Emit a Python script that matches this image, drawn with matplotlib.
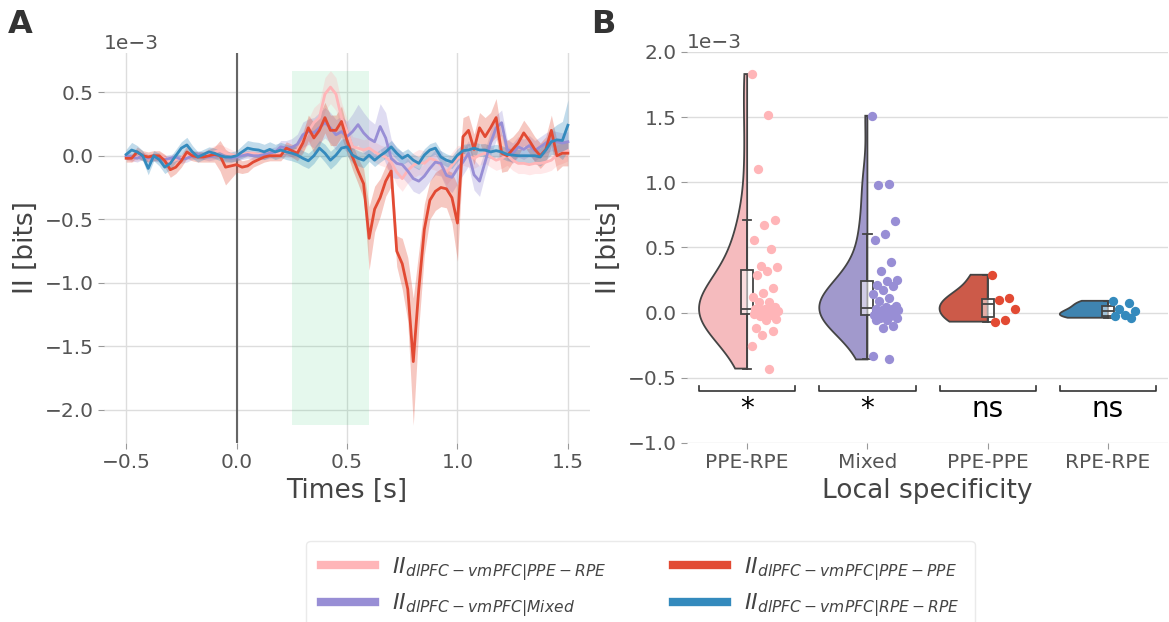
import numpy as np
import matplotlib.pyplot as plt
from matplotlib.lines import Line2D

# ---- Panel A : time courses (values in 1e-3 bits) ----
times = np.round(np.arange(-0.5, 1.5001, 0.025), 3)

ii_ppe_rpe = [0.0, -0.02, -0.01, 0.0, -0.02, -0.01, 0.0, -0.02, -0.05, -0.03,
              -0.02, 0.0, 0.01, 0.0, 0.0, 0.02, 0.03, 0.04, 0.02, 0.01,
              0.0, 0.01, 0.02, 0.02, 0.01, 0.02, 0.02, 0.01, 0.02, 0.03,
              0.03, 0.045, 0.11, 0.19, 0.26, 0.30, 0.485, 0.54, 0.485, 0.30,
              0.19, 0.07, 0.06, 0.045, 0.06, 0.03, 0.005, -0.01, -0.05, -0.13,
              -0.18, -0.115, -0.075, -0.05, -0.06, -0.02, -0.035, -0.075, -0.13, -0.075,
              -0.02, 0.005, -0.01, -0.02, 0.005, 0.02, -0.01, -0.035, -0.02, 0.005,
              -0.035, -0.06, -0.06, -0.07, -0.06, -0.06, -0.05, -0.035, 0.005, 0.02,
              0.04]
ii_mixed = [0.0, -0.01, -0.02, 0.0, -0.02, -0.01, -0.02, -0.03, -0.02, -0.01,
            -0.03, -0.02, 0.0, 0.01, 0.0, -0.01, 0.0, 0.01, -0.01, -0.02,
            -0.01, 0.0, 0.01, 0.0, 0.0, 0.01, 0.02, 0.03, 0.07, 0.06,
            0.065, 0.09, 0.165, 0.19, 0.18, 0.22, 0.26, 0.22, 0.165, 0.19,
            0.15, 0.19, 0.245, 0.18, 0.135, 0.11, 0.23, 0.14, -0.02, -0.06,
            -0.07, -0.12, -0.18, -0.2, -0.16, -0.1, -0.05, -0.06, -0.155, -0.17,
            -0.1, -0.05, 0.02, -0.15, -0.2, -0.05, 0.1, 0.22, 0.26, 0.05,
            0.02, 0.07, 0.05, 0.08, 0.04, 0.07, 0.1, 0.12, 0.11, 0.1,
            0.11]
ii_ppe_ppe = [-0.02, -0.02, 0.03, 0.0, -0.01, 0.0, 0.0, -0.04, -0.11, -0.09,
              -0.04, 0.03, 0.0, -0.01, -0.01, 0.0, 0.01, 0.0, -0.09, -0.08,
              -0.07, -0.09, -0.08, -0.05, -0.03, -0.01, 0.0, 0.0, 0.0, 0.06,
              0.04, 0.02, 0.1, 0.22, 0.14, 0.2, 0.3, 0.2, 0.2, 0.27,
              0.12, -0.01, -0.12, -0.22, -0.65, -0.42, -0.33, -0.2, -0.12, -0.75,
              -0.85, -1.05, -1.62, -1.05, -0.58, -0.35, -0.28, -0.25, -0.26, -0.33,
              -0.53, 0.15, 0.2, 0.05, 0.22, 0.15, 0.22, 0.3, 0.02, 0.0,
              0.05, 0.1, 0.18, 0.12, 0.05, 0.0, 0.05, 0.2, 0.0, 0.02,
              0.02]
ii_rpe_rpe = [0.01, 0.045, 0.03, 0.0, -0.1, 0.0, -0.03, -0.09, -0.06, 0.0,
              0.06, 0.085, 0.03, -0.01, 0.01, 0.03, 0.02, 0.0, -0.01, -0.01,
              0.0, 0.03, 0.06, 0.05, 0.045, 0.03, 0.05, 0.03, 0.045, 0.03,
              0.02, 0.005, -0.02, -0.04, 0.0, 0.06, 0.02, -0.035, 0.005, 0.06,
              0.07, 0.005, -0.02, -0.035, 0.005, -0.035, 0.0, 0.03, 0.07, 0.02,
              -0.02, 0.005, -0.035, -0.06, 0.005, 0.045, 0.06, -0.01, -0.035, -0.05,
              0.005, 0.04, 0.045, 0.06, 0.045, 0.045, 0.03, 0.04, 0.03, 0.01,
              0.005, 0.0, 0.0, 0.0, 0.0, -0.01, 0.045, 0.11, 0.125, 0.12,
              0.24]

err_ppe_rpe = [0.03, 0.03, 0.03, 0.03, 0.03, 0.03, 0.03, 0.03, 0.04, 0.04,
               0.03, 0.03, 0.03, 0.03, 0.03, 0.04, 0.05, 0.05, 0.05, 0.04,
               0.03, 0.03, 0.03, 0.03, 0.03, 0.03, 0.03, 0.03, 0.03, 0.04,
               0.05, 0.06, 0.08, 0.1, 0.12, 0.12, 0.13, 0.13, 0.13, 0.12,
               0.1, 0.08, 0.08, 0.08, 0.08, 0.08, 0.08, 0.08, 0.08, 0.1,
               0.1, 0.1, 0.1, 0.1, 0.1, 0.08, 0.08, 0.08, 0.1, 0.1,
               0.1, 0.08, 0.08, 0.08, 0.08, 0.08, 0.08, 0.08, 0.08, 0.08,
               0.08, 0.08, 0.08, 0.08, 0.08, 0.08, 0.08, 0.08, 0.08, 0.08,
               0.08]
err_mixed = [0.03, 0.03, 0.03, 0.03, 0.03, 0.03, 0.03, 0.03, 0.03, 0.03,
             0.03, 0.03, 0.03, 0.03, 0.03, 0.03, 0.03, 0.03, 0.03, 0.03,
             0.03, 0.03, 0.03, 0.03, 0.03, 0.04, 0.04, 0.04, 0.05, 0.06,
             0.07, 0.08, 0.1, 0.1, 0.12, 0.12, 0.12, 0.12, 0.12, 0.12,
             0.12, 0.14, 0.16, 0.16, 0.15, 0.14, 0.18, 0.2, 0.15, 0.12,
             0.1, 0.1, 0.1, 0.1, 0.1, 0.1, 0.1, 0.1, 0.1, 0.12,
             0.12, 0.1, 0.1, 0.12, 0.12, 0.1, 0.1, 0.1, 0.1, 0.08,
             0.08, 0.08, 0.08, 0.08, 0.08, 0.08, 0.08, 0.08, 0.08, 0.08,
             0.08]
err_ppe_ppe = [0.03, 0.03, 0.04, 0.04, 0.04, 0.04, 0.04, 0.05, 0.06, 0.05,
               0.05, 0.05, 0.04, 0.04, 0.04, 0.05, 0.06, 0.12, 0.14, 0.1,
               0.06, 0.05, 0.05, 0.04, 0.04, 0.04, 0.04, 0.04, 0.04, 0.05,
               0.05, 0.06, 0.08, 0.1, 0.12, 0.12, 0.12, 0.12, 0.12, 0.12,
               0.1, 0.1, 0.1, 0.12, 0.25, 0.18, 0.15, 0.12, 0.12, 0.12,
               0.2, 0.25, 0.5, 0.3, 0.2, 0.15, 0.15, 0.15, 0.15, 0.2,
               0.3, 0.15, 0.12, 0.12, 0.12, 0.15, 0.12, 0.15, 0.15, 0.12,
               0.1, 0.1, 0.1, 0.1, 0.1, 0.1, 0.1, 0.12, 0.12, 0.1,
               0.1]
err_rpe_rpe = [0.04, 0.06, 0.05, 0.04, 0.05, 0.04, 0.05, 0.05, 0.05, 0.05,
               0.05, 0.06, 0.05, 0.04, 0.04, 0.04, 0.04, 0.04, 0.04, 0.04,
               0.04, 0.05, 0.06, 0.06, 0.06, 0.06, 0.06, 0.06, 0.06, 0.06,
               0.06, 0.06, 0.06, 0.06, 0.06, 0.06, 0.07, 0.07, 0.07, 0.07,
               0.07, 0.06, 0.06, 0.06, 0.05, 0.05, 0.05, 0.05, 0.05, 0.05,
               0.05, 0.05, 0.05, 0.05, 0.05, 0.05, 0.05, 0.05, 0.05, 0.05,
               0.05, 0.05, 0.05, 0.05, 0.05, 0.05, 0.05, 0.05, 0.05, 0.05,
               0.05, 0.05, 0.05, 0.06, 0.06, 0.07, 0.08, 0.1, 0.12, 0.15,
               0.2]

# ---- Panel B : per-pair values (1e-3 bits) ----
categories = ["PPE-RPE", "Mixed", "PPE-PPE", "RPE-RPE"]
pts_ppe_rpe = [1.83, 1.515, 1.10, 0.71, 0.67, 0.56, 0.49, 0.36, 0.35, 0.32,
               0.29, 0.19, 0.15, 0.12, 0.08, 0.08, 0.04, 0.03, 0.03, 0.02,
               0.02, 0.01, 0.01, 0.0, 0.0, -0.01, -0.01, -0.02, -0.03, -0.05,
               -0.06, -0.12, -0.14, -0.17, -0.26, -0.43]
pts_mixed = [1.51, 0.99, 0.98, 0.70, 0.60, 0.56, 0.39, 0.32, 0.25, 0.24,
             0.21, 0.20, 0.17, 0.14, 0.11, 0.09, 0.05, 0.04, 0.03, 0.03,
             0.02, 0.02, 0.01, 0.0, 0.0, -0.01, -0.02, -0.03, -0.04, -0.04,
             -0.06, -0.06, -0.10, -0.12, -0.33, -0.36]
pts_ppe_ppe = [0.29, 0.11, 0.10, 0.03, -0.06, -0.07]
pts_rpe_rpe = [0.09, 0.07, 0.03, 0.01, -0.02, -0.03, -0.04]
significance = ["*", "*", "ns", "ns"]

colors = ["#FFB5B8", "#988ED5", "#E24A33", "#348ABD"]
violin_colors = ["#F5BBBE", "#A199CC", "#CC5A49", "#3F84B0"]
labels = [r"$II_{dlPFC-vmPFC|PPE-RPE}$", r"$II_{dlPFC-vmPFC|Mixed}$",
          r"$II_{dlPFC-vmPFC|PPE-PPE}$", r"$II_{dlPFC-vmPFC|RPE-RPE}$"]

plt.rcParams.update({"font.family": "DejaVu Sans", "axes.edgecolor": "white",
                     "text.color": "#444444", "axes.labelcolor": "#444444"})

fig = plt.figure(figsize=(11.69, 6.22), dpi=100)
axA = fig.add_axes([0.089, 0.288, 0.4157, 0.627])
axB = fig.add_axes([0.5877, 0.288, 0.4115, 0.6286])

scale = 1e-3
series = [ii_ppe_rpe, ii_mixed, ii_ppe_ppe, ii_rpe_rpe]
errors = [err_ppe_rpe, err_mixed, err_ppe_ppe, err_rpe_rpe]
lows, highs = [], []
for vals, err, c in zip(series, errors, colors):
    m = np.array(vals) * scale
    e = np.array(err) * scale
    lows.append((m - e).min())
    highs.append((m + e).max())
    axA.fill_between(times, m - e, m + e, color=c, alpha=0.3, lw=0, zorder=2)
for vals, c in zip(series, colors):
    axA.plot(times, np.array(vals) * scale, color=c, lw=2, zorder=3)

axA.fill_between([0.25, 0.6], min(lows), max(highs), color="#2ecc71", alpha=0.12, lw=0, zorder=1)
axA.axvline(0, color="#666666", lw=1.5, zorder=1.5)
axA.grid(True, color="#dddddd", lw=1)
axA.set_axisbelow(True)
axA.set_xlabel("Times [s]", fontsize=19)
axA.set_ylabel("II [bits]", fontsize=19)
axA.set_xticks([-0.5, 0.0, 0.5, 1.0, 1.5])

# raincloud panel
groups = [pts_ppe_rpe, pts_mixed, pts_ppe_ppe, pts_rpe_rpe]
for i, (g, c, vc) in enumerate(zip(groups, colors, violin_colors)):
    d = np.array(g) * scale
    bw = d.std(ddof=1) * len(d) ** (-1 / 5)
    yy = np.linspace(d.min(), d.max(), 200)
    dens = np.exp(-0.5 * ((yy[:, None] - d[None, :]) / bw) ** 2).sum(axis=1)
    dens = dens / dens.max() * 0.4
    xs = np.concatenate([[i], i - dens, [i]])
    ys = np.concatenate([[yy[0]], yy, [yy[-1]]])
    axB.fill(xs, ys, facecolor=vc, edgecolor="#444444", lw=1.3, zorder=2)
    axB.boxplot(d, positions=[i], widths=0.1, patch_artist=True, showfliers=False,
                capwidths=0.07, manage_ticks=False,
                boxprops=dict(facecolor=(1, 1, 1, 0.5), edgecolor="#444444", lw=1.3),
                medianprops=dict(color="#444444", lw=1.3),
                whiskerprops=dict(color="#444444", lw=1.3),
                capprops=dict(color="#444444", lw=1.3), zorder=3)
    offs = 0.15 + 0.11 * (((np.arange(len(d)) * 0.618034) % 1) * 2 - 1)
    axB.scatter(i + offs, d, s=45, color=c, lw=0, zorder=4)
    axB.plot([i - 0.4, i - 0.4, i + 0.4, i + 0.4],
             np.array([-0.56, -0.6, -0.6, -0.56]) * scale, color="#333333", lw=1.2)
    axB.text(i, -0.63 * scale, significance[i], ha="center", va="top",
             fontsize=20, color="black")

axB.set_xlim(-0.5, 3.5)
axB.set_ylim(-1.0e-3, 2.0e-3)
axB.set_xticks(range(4))
axB.set_xticklabels(categories)
axB.grid(True, axis="y", color="#dddddd", lw=1)
axB.set_axisbelow(True)
axB.set_xlabel("Local specificity", fontsize=19)
axB.set_ylabel("II [bits]", fontsize=19)

for ax in (axA, axB):
    for s in ax.spines.values():
        s.set_visible(False)
    ax.ticklabel_format(axis="y", style="sci", scilimits=(0, 0))
    ax.tick_params(length=4, color="#999999", labelcolor="#555555", labelsize=14.5)
    ax.yaxis.get_offset_text().set_fontsize(14.5)
    ax.yaxis.get_offset_text().set_color("#555555")

fig.text(0.007, 0.985, "A", fontsize=23, fontweight="bold", va="top", color="#333333")
fig.text(0.506, 0.985, "B", fontsize=23, fontweight="bold", va="top", color="#333333")

handles = [Line2D([], [], color=c, lw=6) for c in colors]
fig.legend(handles, labels, loc="upper center", bbox_to_anchor=(0.548, 0.131), ncol=2,
           fontsize=16, frameon=True, edgecolor="#e5e5e5", columnspacing=3,
           handlelength=2.4, labelspacing=0.4, borderpad=0.67, borderaxespad=0)

fig.savefig("out.png", dpi=100)
